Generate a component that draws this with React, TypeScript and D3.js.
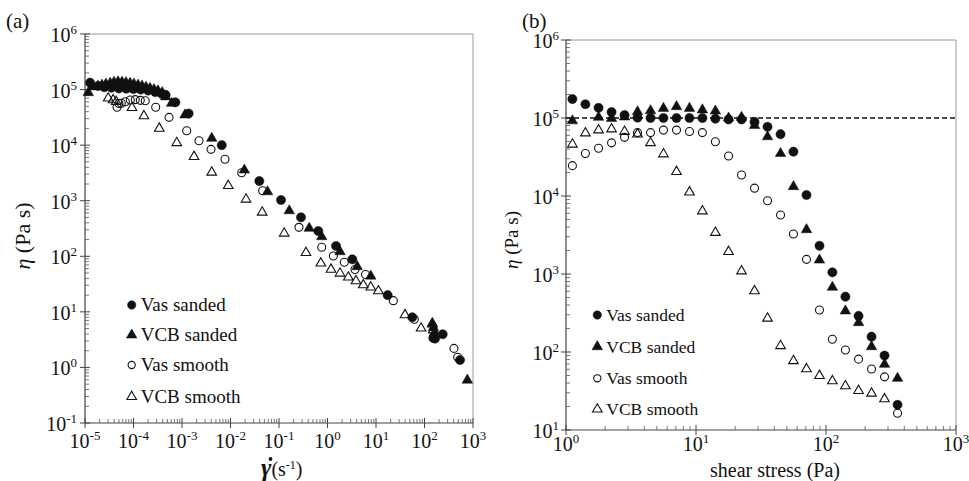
import * as d3 from "d3";

const FONT = "'Liberation Serif', 'Times New Roman', serif";

// (a) viscosity vs shear rate
const rateVasSandedX = [1.27e-5, 1.86e-5, 2.5e-5, 3.5e-5, 5.0e-5, 7.1e-5, 1.0e-4, 1.41e-4, 2.0e-4, 2.8e-4, 3.8e-4, 4.6e-4, 7.3e-4, 1.37e-3, 6.6e-3, 0.0393, 0.11, 0.284, 0.646, 1.5, 3.25, 17.4, 56, 152, 165, 237, 540];
const rateVasSandedY = [1.33e5, 1.16e5, 1.1e5, 1.08e5, 1.05e5, 1.04e5, 1.02e5, 1.0e5, 9.6e4, 9.0e4, 8.4e4, 8.0e4, 5.9e4, 3.7e4, 1.0e4, 2.26e3, 1.03e3, 502, 285, 153, 88, 20, 8.0, 3.4, 3.3, 3.95, 1.36];

const rateVcbSandedX = [1.17e-5, 1.46e-5, 1.85e-5, 2.24e-5, 2.7e-5, 3.3e-5, 3.96e-5, 4.8e-5, 5.8e-5, 7.0e-5, 8.5e-5, 1.02e-4, 1.24e-4, 1.5e-4, 1.81e-4, 2.19e-4, 2.65e-4, 3.2e-4, 3.9e-4, 4.6e-4, 6.1e-4, 1.15e-3, 4.1e-3, 0.0193, 0.058, 0.163, 0.42, 0.76, 1.81, 4.1, 7.8, 145, 153, 160, 764];
const rateVcbSandedY = [8.8e4, 1.12e5, 1.15e5, 1.2e5, 1.25e5, 1.3e5, 1.35e5, 1.38e5, 1.36e5, 1.33e5, 1.3e5, 1.25e5, 1.2e5, 1.15e5, 1.1e5, 1.05e5, 1.0e5, 9.5e4, 8.8e4, 7.4e4, 5.66e4, 3.5e4, 1.33e4, 3.57e3, 1.45e3, 660, 319, 225, 121, 65, 44, 6.2, 5.2, 4.2, 0.59];

const rateVasSmoothX = [4.57e-5, 5.0e-5, 5.6e-5, 6.8e-5, 8.6e-5, 1.09e-4, 1.38e-4, 1.75e-4, 2.87e-4, 5.4e-4, 1.25e-3, 2.24e-3, 3.97e-3, 7.7e-3, 0.017, 0.046, 0.258, 0.76, 1.32, 2.22, 3.69, 6.1, 22.8, 61.7, 405, 483];
const rateVasSmoothY = [4.8e4, 5.6e4, 5.66e4, 6.05e4, 6.5e4, 6.6e4, 6.4e4, 6.3e4, 4.8e4, 3.16e4, 1.82e4, 1.2e4, 8.4e3, 5.56e3, 3.19e3, 1.51e3, 332, 145, 101, 78, 58, 47, 15.9, 7.35, 2.2, 1.52];

const rateVcbSmoothX = [3.0e-5, 3.8e-5, 4.4e-5, 9.3e-5, 1.64e-4, 3.4e-4, 7.8e-4, 1.77e-3, 4.1e-3, 9.0e-3, 0.0209, 0.045, 0.128, 0.36, 0.73, 1.18, 1.81, 2.69, 3.87, 5.48, 7.8, 11.2, 39.6, 85, 145, 152];
const rateVcbSmoothY = [6.97e4, 6.5e4, 6.05e4, 4.7e4, 3.35e4, 2.0e4, 1.1e4, 6.2e3, 3.24e3, 1.86e3, 1.06e3, 618, 259, 116, 75, 58, 49.4, 41.9, 35.9, 30.4, 27.7, 23.7, 8.8, 5.06, 6.0, 4.7];

// (b) viscosity vs shear stress
const stressX = [1.12, 1.41, 1.78, 2.24, 2.82, 3.55, 4.47, 5.62, 7.08, 8.91, 11.2, 14.1, 17.8, 22.4, 28.2, 35.5, 44.7, 56.2, 70.8, 89.1, 112, 141, 178, 224, 282, 355];
const stressVasSanded = [1.75e5, 1.5e5, 1.35e5, 1.19e5, 1.09e5, 1.01e5, 1.0e5, 1.0e5, 1.0e5, 1.0e5, 1.0e5, 0.98e5, 0.96e5, 0.96e5, 0.89e5, 0.77e5, 6.2e4, 3.7e4, 1.03e4, 2.3e3, 1.05e3, 512, 290, 157, 90, 21];
const stressVcbSanded = [0.92e5, null, 1.02e5, 0.99e5, 1.03e5, 1.2e5, 1.24e5, 1.33e5, 1.4e5, 1.33e5, 1.27e5, 1.23e5, 1.0e5, 1.02e5, 0.8e5, 5.75e4, 3.5e4, 1.32e4, 3.7e3, 1.51e3, 675, 336, 238, 117, 69.5, 46];
const stressVasSmooth = [2.45e4, 3.5e4, 4.1e4, 4.8e4, 5.65e4, 6.5e4, 6.5e4, 7.0e4, 7.0e4, 6.7e4, 6.5e4, 4.95e4, 3.26e4, 1.86e4, 1.26e4, 8.7e3, 5.7e3, 3.26e3, 1.54e3, 345, 146, 106, 81, 60.5, 48, 16.4];
const stressVcbSmooth = [4.6e4, 6.4e4, 7.0e4, 7.2e4, 6.7e4, 6.2e4, 4.8e4, 3.45e4, 2.05e4, 1.12e4, 6.4e3, 3.39e3, 1.93e3, 1.09e3, 605, 270, 120, 77, 60.5, 49.7, 42.5, 36.6, 31.9, 29.5, 25, null];

const legendLabels = ["Vas sanded", "VCB sanded", "Vas smooth", "VCB smooth"];
const legendShapes = ["circle", "triangle", "circle", "triangle"];
const legendFilled = [true, true, false, false];

const INK = "#111";

function Marker({ cx, cy, shape, filled, r = 4.6 }: any) {
  const fill = filled ? INK : "none";
  if (shape === "circle") {
    return <circle cx={cx} cy={cy} r={filled ? r : r - 0.6} fill={fill} stroke={INK} strokeWidth={filled ? 0.5 : 1.1} />;
  }
  const tri = d3.symbol(d3.symbolTriangle, filled ? 48 : 40)() as string;
  return <path d={tri} transform={`translate(${cx},${cy})`} fill={fill} stroke={INK} strokeWidth={filled ? 0.5 : 1.1} />;
}

function Pow({ x, y, exp, anchor }: any) {
  return (
    <text x={x} y={y} textAnchor={anchor} fontFamily={FONT} fontSize={20} fill={INK}>
      10<tspan dy={-8} fontSize={13}>{exp}</tspan>
    </text>
  );
}

function LogPanel({ box, xDomain, yDomain, series, legendX, legendRows, legendSize, xLabelY, yLabelGap }: any) {
  const [left, top, right, bottom] = box;
  const x = d3.scaleLog().domain(xDomain).range([left, right]);
  const y = d3.scaleLog().domain(yDomain).range([bottom, top]);
  const xe = d3.range(Math.round(Math.log10(xDomain[0])), Math.round(Math.log10(xDomain[1])) + 1);
  const ye = d3.range(Math.round(Math.log10(yDomain[0])), Math.round(Math.log10(yDomain[1])) + 1);
  const minor = (es: number[]) =>
    es.slice(0, -1).flatMap((e) => d3.range(2, 10).map((m) => m * Math.pow(10, e)));

  return (
    <g>
      {/* frame */}
      <line x1={left} x2={right} y1={top} y2={top} stroke="#999" strokeWidth={1} />
      <line x1={right} x2={right} y1={top} y2={bottom} stroke="#999" strokeWidth={1} />
      <line x1={left} x2={left} y1={top} y2={bottom} stroke="#444" strokeWidth={1.2} />
      <line x1={left} x2={right} y1={bottom} y2={bottom} stroke="#444" strokeWidth={1.2} />

      {minor(xe).map((v, i) => (
        <line key={"xm" + i} x1={x(v)} x2={x(v)} y1={bottom} y2={bottom - 4} stroke="#555" strokeWidth={0.8} />
      ))}
      {minor(ye).map((v, i) => (
        <line key={"ym" + i} x1={left} x2={left + 4} y1={y(v)} y2={y(v)} stroke="#555" strokeWidth={0.8} />
      ))}
      {xe.map((e) => (
        <g key={"xt" + e}>
          <line x1={x(Math.pow(10, e))} x2={x(Math.pow(10, e))} y1={bottom - 5} y2={bottom + 5} stroke="#444" strokeWidth={1} />
          <Pow x={x(Math.pow(10, e))} y={xLabelY} exp={String(e)} anchor="middle" />
        </g>
      ))}
      {ye.map((e) => (
        <g key={"yt" + e}>
          <line x1={left - 5} x2={left + 5} y1={y(Math.pow(10, e))} y2={y(Math.pow(10, e))} stroke="#444" strokeWidth={1} />
          <Pow x={left - yLabelGap} y={y(Math.pow(10, e)) + 8} exp={String(e)} anchor="end" />
        </g>
      ))}

      {series.map((s: any, si: number) =>
        s.x.map((xv: number, i: number) =>
          s.y[i] == null ? null : (
            <Marker key={si + "-" + i} cx={x(xv)} cy={y(s.y[i])} shape={legendShapes[si]} filled={legendFilled[si]} />
          )
        )
      )}

      {legendLabels.map((lab, i) => (
        <g key={"lg" + i}>
          <Marker cx={legendX} cy={legendRows[i]} shape={legendShapes[i]} filled={legendFilled[i]} r={4.2} />
          <text x={legendX + 9} y={legendRows[i] + 6} fontFamily={FONT} fontSize={legendSize} fill={INK}>{lab}</text>
        </g>
      ))}
    </g>
  );
}

export default function App() {
  const seriesA = [
    { x: rateVasSandedX, y: rateVasSandedY },
    { x: rateVcbSandedX, y: rateVcbSandedY },
    { x: rateVasSmoothX, y: rateVasSmoothY },
    { x: rateVcbSmoothX, y: rateVcbSmoothY },
  ];
  const seriesB = [
    { x: stressX, y: stressVasSanded },
    { x: stressX, y: stressVcbSanded },
    { x: stressX, y: stressVasSmooth },
    { x: stressX, y: stressVcbSmooth },
  ];
  const yB = d3.scaleLog().domain([10, 1e6]).range([430, 40]);

  return (
    <svg width={969} height={481} style={{ position: "absolute", left: 0, top: 0, background: "#fff" }}>
      <text x={6} y={28} fontFamily={FONT} fontSize={21} fill={INK}>(a)</text>
      <text x={522} y={28} fontFamily={FONT} fontSize={21} fill={INK}>(b)</text>

      <LogPanel
        box={[85, 34, 473, 423]}
        xDomain={[1e-5, 1e3]}
        yDomain={[0.1, 1e6]}
        series={seriesA}
        legendX={131.7}
        legendRows={[305, 335, 365, 396.7]}
        legendSize={19}
        xLabelY={448}
        yLabelGap={8}
      />
      <LogPanel
        box={[566, 40, 956, 430]}
        xDomain={[1, 1e3]}
        yDomain={[10, 1e6]}
        series={seriesB}
        legendX={597.3}
        legendRows={[315, 346.7, 378.3, 409.3]}
        legendSize={17.5}
        xLabelY={451}
        yLabelGap={7}
      />

      {/* Newtonian plateau reference */}
      <line x1={566} x2={956} y1={yB(1e5)} y2={yB(1e5)} stroke={INK} strokeWidth={1.4} strokeDasharray="5,3" />

      {/* axis titles */}
      <text transform="translate(30,236) rotate(-90)" textAnchor="middle" fontFamily={FONT} fontSize={22} fill={INK}>
        <tspan fontStyle="italic">η</tspan> (Pa s)
      </text>
      <text transform="translate(518,240) rotate(-90)" textAnchor="middle" fontFamily={FONT} fontSize={19} fill={INK}>
        <tspan fontStyle="italic">η</tspan> (Pa s)
      </text>
      <text x={261} y={476} fontFamily={FONT} fontSize={20} fill={INK}>
        <tspan fontStyle="italic" fontWeight="bold" fontSize={25}>γ</tspan>
        <tspan>(s</tspan>
        <tspan dy={-7} fontSize={12}>-1</tspan>
        <tspan dy={7}>)</tspan>
      </text>
      <circle cx={270.5} cy={459} r={1.9} fill={INK} />
      <text x={775} y={477} textAnchor="middle" fontFamily={FONT} fontSize={20} fill={INK}>shear stress (Pa)</text>
    </svg>
  );
}
